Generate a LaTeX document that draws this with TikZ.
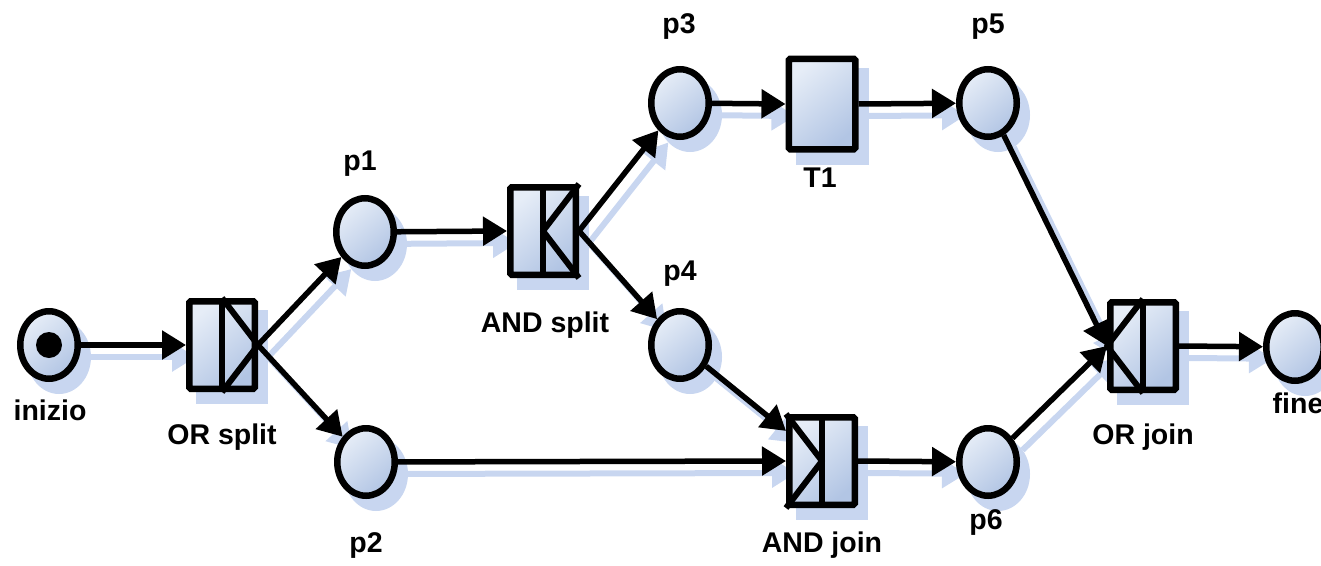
\documentclass[tikz,border=0pt]{standalone}
\usepackage{fontspec}
\setmainfont{Liberation Sans}
\usetikzlibrary{arrows.meta,shapes.geometric,calc}
\definecolor{fillA}{RGB}{230,237,247}
\definecolor{fillB}{RGB}{178,197,228}
\definecolor{shadowc}{RGB}{200,214,240}
\pgfdeclarelayer{shadow}
\pgfdeclarelayer{conn}
\pgfsetlayers{shadow,conn,main}
\tikzset{
  place/.style={ellipse, draw=black, line width=6.5pt, inner sep=0pt,
    minimum width=57.5pt, minimum height=67.5pt,
    top color=fillA, bottom color=fillB, shading angle=40},
  trans/.style={rectangle, draw=black, line width=6.5pt, inner sep=0pt, rounded corners=1.5pt,
    minimum width=65.5pt, minimum height=87.5pt,
    top color=fillA, bottom color=fillB, shading angle=40},
  inner/.style={line width=6pt, line join=round},
  arr/.style={line width=5.5pt, -{Triangle[length=24pt,width=28pt]}},
  sharr/.style={line width=6pt, draw=shadowc, -{Triangle[length=24pt,width=28pt,fill=shadowc]}},
  lbl/.style={font=\bfseries\fontsize{28.5pt}{32pt}\selectfont, inner sep=0pt},
}
\newcommand\allconns[1]{%
  \draw[#1] (inizio) -- (ors.west);
  \draw[#1] (ors.east) -- (p1);
  \draw[#1] (ors.east) -- (p2);
  \draw[#1] (p1) -- (ands.west);
  \draw[#1] (ands.east) -- (p3);
  \draw[#1] (ands.east) -- (p4);
  \draw[#1] (p3) -- (T1.west);
  \draw[#1] (T1.east) -- (p5);
  \draw[#1] (p4) -- (andjin);
  \draw[#1] (p2) -- (andj.west);
  \draw[#1] (andj.east) -- (p6);
  \draw[#1] (p5) -- (orj.west);
  \draw[#1] (p6) -- (orj.west);
  \draw[#1] (orj.east) -- (fine);
}
\begin{document}
\begin{tikzpicture}[x=1pt,y=-1pt]
\useasboundingbox (0,0) rectangle (1321,565);
% nodes
\node[place] (inizio) at (49,345) {};
\fill (inizio.center) circle (13pt);
\node[trans] (ors) at (222,345) {};
\node[place] (p1) at (365,232) {};
\node[place] (p2) at (366,462) {};
\node[trans] (ands) at (543,231) {};
\node[place] (p3) at (680,103) {};
\node[trans, minimum height=90.5pt, minimum width=66.5pt] (T1) at (822,104) {};
\node[place] (p5) at (988,103) {};
\node[place] (p4) at (680,345) {};
\node[trans] (andj) at (822,461) {};
\node[place] (p6) at (988,462) {};
\node[trans] (orj) at (1143,346) {};
\node[place] (fine) at (1295,347) {};
\coordinate (andjin) at ($(andj.north west)!0.18!(andj.south west)$);
% inner marks
\draw[inner] (ors.north) -- (ors.south);
\draw[inner] (ors.north) -- (ors.east) -- (ors.south);
\draw[inner] (ands.north) -- (ands.south);
\draw[inner] (ands.north east) -- (ands.center) -- (ands.south east);
\draw[inner] (andj.north) -- (andj.south);
\draw[inner] (andj.north west) -- (andj.center) -- (andj.south west);
\draw[inner] (orj.north) -- (orj.south);
\draw[inner] (orj.north) -- (orj.west) -- (orj.south);
% labels
\node[lbl] (l-inizio) at (50,410) {inizio};
\node[lbl] (l-ors) at (222,437) {OR split};
\node[lbl] (l-p1) at (360,164) {p1};
\node[lbl] (l-p2) at (366,545) {p2};
\node[lbl] (l-ands) at (545,325) {AND split};
\node[lbl] (l-p3) at (679,27) {p3};
\node[lbl] (l-T1) at (820,178) {T1};
\node[lbl] (l-p4) at (680,274) {p4};
\node[lbl] (l-p5) at (988,27) {p5};
\node[lbl] (l-andj) at (822,545) {AND join};
\node[lbl] (l-p6) at (986,522) {p6};
\node[lbl] (l-orj) at (1143,437) {OR join};
\node[lbl] (l-fine) at (1298,403) {fine};
% connectors
\begin{pgfonlayer}{conn}
  \allconns{arr}
\end{pgfonlayer}
% shadows
\begin{pgfonlayer}{shadow}
\begin{scope}[transform canvas={shift={(10,12)}}]
  \allconns{sharr}
  \foreach \n in {inizio,p1,p2,p3,p4,p5,p6,fine}
    \fill[shadowc] (\n.center) ellipse [x radius=32pt, y radius=37pt];
  \foreach \n in {ors,ands,T1,andj,orj}
    \fill[shadowc] (\n.south west) rectangle (\n.north east);
\end{scope}
\end{pgfonlayer}
\end{tikzpicture}
\end{document}
